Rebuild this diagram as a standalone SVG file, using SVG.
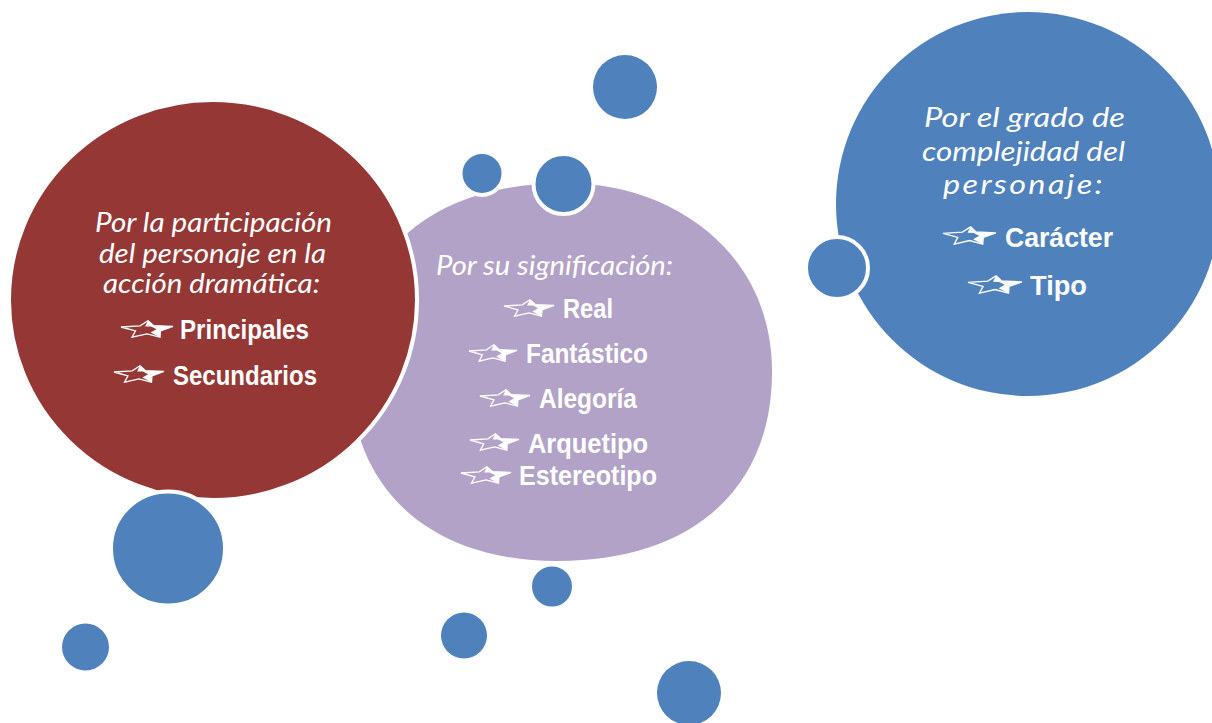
<svg xmlns="http://www.w3.org/2000/svg" xmlns:xlink="http://www.w3.org/1999/xlink" width="1212" height="723" viewBox="0 0 1212 723">
<style>
.h{font-family:Lato,"Open Sans","Noto Sans",sans-serif;font-style:italic;font-size:27px;fill:#fff}
.b{font-family:"Liberation Sans",Arial,sans-serif;font-weight:bold;font-size:27.5px;fill:#fff}
.dot{fill:#4F81BD}
.ring{fill:#4F81BD;stroke:#fff;stroke-width:4}
</style>
<defs>
<symbol id="star" viewBox="0 0 54 18" preserveAspectRatio="none">
<polygon points="28,0.8 33.5,5.6 53,6.5 40.5,10.8 40,17.2 27,13.8 12,17.2 15.5,10.8 1,7 20,5.8" fill="none" stroke="#fff" stroke-width="1.3" stroke-linejoin="miter"/>
<polygon points="28,0.8 33.5,5.6 53,6.5 40.5,10.8 40,17.2 30.5,12.5 36.5,9.2 31,6.6 25,6.4" fill="#fff"/>
</symbol>
</defs>
<rect width="1212" height="723" fill="#fff"/>

<g id="node-blue">
<circle cx="1028" cy="204" r="192" fill="#4F81BD"/>
<text class="h" x="924" y="127" textLength="201" lengthAdjust="spacingAndGlyphs">Por el grado de</text>
<text class="h" x="922" y="161" textLength="203" lengthAdjust="spacingAndGlyphs">complejidad del</text>
<text class="h" x="943" y="194" textLength="162" lengthAdjust="spacingAndGlyphs" letter-spacing="2">personaje:</text>
<use href="#star" x="942" y="226" width="55" height="19"/>
<text class="b" x="1005" y="247" textLength="108" lengthAdjust="spacingAndGlyphs">Carácter</text>
<use href="#star" x="967" y="275" width="56" height="19"/>
<text class="b" x="1030" y="295" textLength="57" lengthAdjust="spacingAndGlyphs">Tipo</text>
</g>

<g id="node-purple">
<path d="M566,183 C670,183 772,250 772,372 C772,489 692,561 557,561 C430,561 350,489 350,372 C350,255 430,183 566,183 Z" fill="#B3A2C7"/>
<text class="h" x="436" y="275" textLength="237" lengthAdjust="spacingAndGlyphs">Por su significación:</text>
<use href="#star" x="503" y="299" width="52" height="18"/>
<text class="b" x="563" y="318" textLength="50" lengthAdjust="spacingAndGlyphs">Real</text>
<use href="#star" x="468" y="344" width="50" height="18"/>
<text class="b" x="526" y="363" textLength="122" lengthAdjust="spacingAndGlyphs">Fantástico</text>
<use href="#star" x="479" y="389" width="52" height="18"/>
<text class="b" x="539" y="408" textLength="98" lengthAdjust="spacingAndGlyphs">Alegoría</text>
<use href="#star" x="469" y="433" width="51" height="18"/>
<text class="b" x="528" y="453" textLength="120" lengthAdjust="spacingAndGlyphs">Arquetipo</text>
<use href="#star" x="460" y="466" width="52" height="18"/>
<text class="b" x="519" y="485" textLength="138" lengthAdjust="spacingAndGlyphs">Estereotipo</text>
</g>

<g id="node-red">
<ellipse cx="213" cy="300" rx="204" ry="200" fill="#953735" stroke="#fff" stroke-width="4"/>
<text class="h" x="95" y="232" textLength="237" lengthAdjust="spacingAndGlyphs">Por la participación</text>
<text class="h" x="99" y="263" textLength="227" lengthAdjust="spacingAndGlyphs">del personaje en la</text>
<text class="h" x="103" y="293" textLength="217" lengthAdjust="spacingAndGlyphs">acción dramática:</text>
<use href="#star" x="120" y="320" width="54" height="18"/>
<text class="b" x="180" y="339" textLength="129" lengthAdjust="spacingAndGlyphs">Principales</text>
<use href="#star" x="113" y="365" width="52" height="18"/>
<text class="b" x="173" y="385" textLength="144" lengthAdjust="spacingAndGlyphs">Secundarios</text>
</g>

<g id="bubbles">
<circle class="dot" cx="625" cy="87" r="32"/>
<circle class="ring" cx="482" cy="173.5" r="21.5"/>
<circle class="ring" cx="563.5" cy="184" r="30"/>
<circle class="ring" cx="837" cy="268" r="31"/>
<circle class="ring" cx="168" cy="548.5" r="57"/>
<circle class="dot" cx="85.5" cy="647" r="23.5"/>
<circle class="ring" cx="552" cy="586.5" r="22"/>
<circle class="dot" cx="464" cy="635.5" r="23"/>
<circle class="dot" cx="689" cy="693" r="32"/>
</g>
</svg>
